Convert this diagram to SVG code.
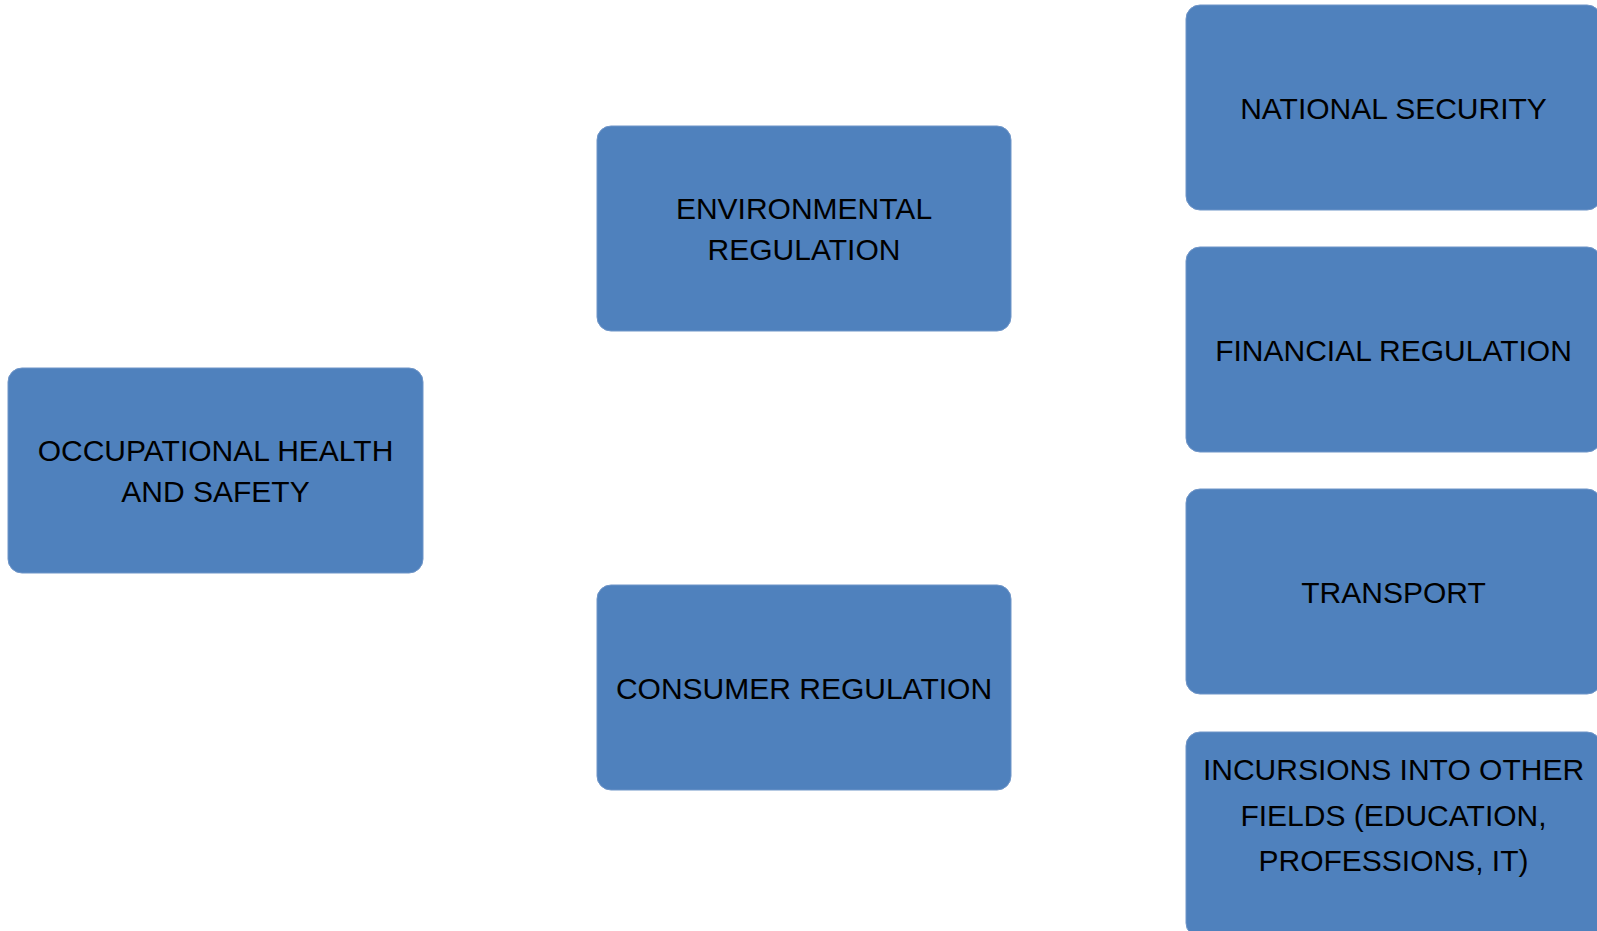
<svg xmlns="http://www.w3.org/2000/svg" width="1597" height="931" viewBox="0 0 1597 931">
<style>
.box{fill:#4F81BD;stroke:#6F95C8;stroke-width:1}
.lbl{font-family:"Liberation Sans",Arial,sans-serif;font-size:30px;fill:#000;text-anchor:middle}
</style>
<rect x="0" y="0" width="1597" height="931" fill="#ffffff"/>
<g id="connectors"/>
<g id="node-ohs">
<rect class="box" x="8" y="368" width="415" height="205" rx="14"/>
<text class="lbl" x="215.5" y="460.5">OCCUPATIONAL HEALTH</text>
<text class="lbl" x="215.5" y="501.5">AND SAFETY</text>
</g>
<g id="node-env">
<rect class="box" x="597" y="126" width="414" height="205" rx="14"/>
<text class="lbl" x="804" y="218.5">ENVIRONMENTAL</text>
<text class="lbl" x="804" y="259.5">REGULATION</text>
</g>
<g id="node-consumer">
<rect class="box" x="597" y="585" width="414" height="205" rx="14"/>
<text class="lbl" x="804" y="698.5">CONSUMER REGULATION</text>
</g>
<g id="node-national">
<rect class="box" x="1186" y="5" width="415" height="205" rx="14"/>
<text class="lbl" x="1393.5" y="118.5">NATIONAL SECURITY</text>
</g>
<g id="node-financial">
<rect class="box" x="1186" y="247" width="415" height="205" rx="14"/>
<text class="lbl" x="1393.5" y="360.5">FINANCIAL REGULATION</text>
</g>
<g id="node-transport">
<rect class="box" x="1186" y="489" width="415" height="205" rx="14"/>
<text class="lbl" x="1393.5" y="602.5">TRANSPORT</text>
</g>
<g id="node-incursions">
<rect class="box" x="1186" y="732" width="415" height="205" rx="14"/>
<text class="lbl" x="1393.5" y="780">INCURSIONS INTO OTHER</text>
<text class="lbl" x="1393.5" y="826">FIELDS (EDUCATION,</text>
<text class="lbl" x="1393.5" y="871">PROFESSIONS, IT)</text>
</g>
</svg>
